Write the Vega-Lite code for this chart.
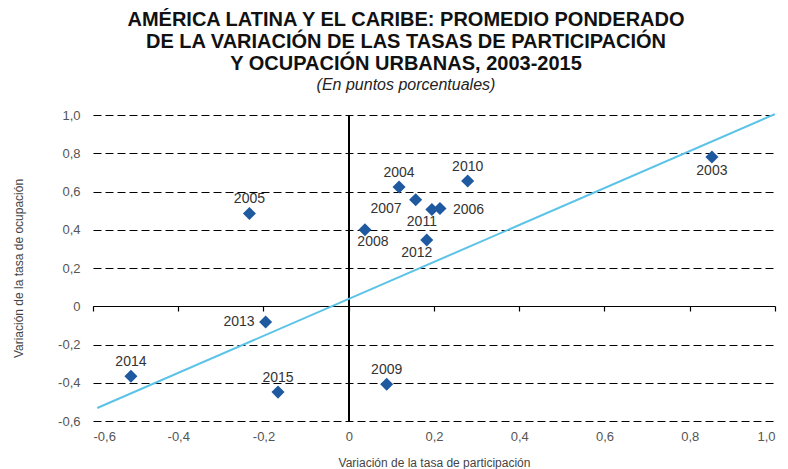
{
  "$schema": "https://vega.github.io/schema/vega-lite/v6.json",
  "width": 682,
  "height": 306,
  "autosize": {"type": "none"},
  "padding": {"left": 93, "top": 115, "right": 13, "bottom": 48},
  "background": "white",
  "config": {"view": {"stroke": null}, "font": "Liberation Sans"},
  "title": {
    "text": ["AMÉRICA LATINA Y EL CARIBE: PROMEDIO PONDERADO", "DE LA VARIACIÓN DE LAS TASAS DE PARTICIPACIÓN", "Y OCUPACIÓN URBANAS, 2003-2015"],
    "subtitle": "(En puntos porcentuales)",
    "fontSize": 20,
    "fontWeight": "bold",
    "lineHeight": 22,
    "color": "#111111",
    "subtitleFontSize": 16,
    "subtitleFontStyle": "italic",
    "subtitleColor": "#222222",
    "subtitlePadding": 3,
    "anchor": "middle",
    "frame": "group",
    "dx": -28,
    "offset": 16
  },
  "datasets": {
    "pts": [
      {"year": "2003", "x": 0.852, "y": 0.78},
      {"year": "2004", "x": 0.118, "y": 0.623},
      {"year": "2005", "x": -0.233, "y": 0.485},
      {"year": "2006", "x": 0.214, "y": 0.511},
      {"year": "2007", "x": 0.157, "y": 0.557},
      {"year": "2008", "x": 0.038, "y": 0.4},
      {"year": "2009", "x": 0.089, "y": -0.408},
      {"year": "2010", "x": 0.279, "y": 0.655},
      {"year": "2011", "x": 0.195, "y": 0.506},
      {"year": "2012", "x": 0.183, "y": 0.346},
      {"year": "2013", "x": -0.195, "y": -0.082},
      {"year": "2014", "x": -0.511, "y": -0.366},
      {"year": "2015", "x": -0.166, "y": -0.449}
    ],
    "fit": [
      {"x": -0.59, "y": -0.532},
      {"x": 1.0, "y": 1.005}
    ]
  },
  "layer": [
    {
      "data": {"name": "pts"},
      "mark": {"type": "rule", "color": "black", "strokeWidth": 1.2},
      "encoding": {
        "x": {"datum": 0, "type": "quantitative", "scale": {"domain": [-0.6, 1.0], "nice": false, "zero": false}, "axis": null}
      }
    },
    {
      "data": {"name": "fit"},
      "mark": {"type": "line", "color": "#5bc3e8", "strokeWidth": 2},
      "encoding": {
        "x": {"field": "x", "type": "quantitative", "axis": {"orient": "bottom", "offset": -115, "domain": true, "domainColor": "black", "domainWidth": 1.2, "ticks": true, "tickColor": "black", "tickSize": 5, "tickWidth": 1.2, "labels": false, "grid": false, "title": null, "tickCount": 20, "values": [-0.6, -0.4, -0.2, 0, 0.2, 0.4, 0.6, 0.8, 1.0]}},
        "y": {"field": "y", "type": "quantitative", "scale": {"domain": [-0.6, 1.0], "nice": false, "zero": false}, "axis": {"domain": false, "ticks": false, "grid": true, "gridColor": "black", "gridDash": [8, 4], "gridWidth": 1, "tickCount": 20, "values": [-0.6, -0.4, -0.2, 0, 0.2, 0.4, 0.6, 0.8, 1.0], "labelOverlap": false, "labelExpr": "datum.value == 0 ? '0' : (datum.value < 0 ? '-' : '') + replace(format(abs(datum.value), '.1f'), '.', ',')", "labelFontSize": 13, "labelColor": "#555555", "labelPadding": 13, "title": "Variación de la tasa de ocupación", "titleFontSize": 12, "titleFontWeight": "normal", "titleColor": "#444444", "titlePadding": 32}}
      }
    },
    {
      "data": {"name": "pts"},
      "mark": {"type": "point", "shape": "diamond", "filled": true, "size": 170, "color": "#1f5aa0", "opacity": 1},
      "encoding": {
        "x": {"field": "x", "type": "quantitative", "axis": {"orient": "bottom", "domain": false, "ticks": false, "grid": false, "labelOverlap": false, "tickCount": 20, "values": [-0.6, -0.4, -0.2, 0, 0.2, 0.4, 0.6, 0.8, 1.0], "labelExpr": "datum.value == 0 ? '0' : (datum.value < 0 ? '-' : '') + replace(format(abs(datum.value), '.1f'), '.', ',')", "labelFontSize": 13, "labelColor": "#555555", "labelPadding": 9, "title": "Variación de la tasa de participación", "titleFontSize": 12, "titleFontWeight": "normal", "titleColor": "#444444", "titlePadding": 14}},
        "y": {"field": "y", "type": "quantitative"}
      }
    },
    {
      "data": {"name": "pts"},
      "transform": [{"filter": {"field": "year", "oneOf": ["2004", "2005", "2009", "2010", "2014", "2015"]}}],
      "mark": {"type": "text", "fontSize": 14, "color": "#333333", "dy": -14, "align": "center", "baseline": "middle"},
      "encoding": {"x": {"field": "x", "type": "quantitative", "axis": null}, "y": {"field": "y", "type": "quantitative"}, "text": {"field": "year"}}
    },
    {
      "data": {"name": "pts"},
      "transform": [{"filter": {"field": "year", "oneOf": ["2003"]}}],
      "mark": {"type": "text", "fontSize": 14, "color": "#333333", "dy": 14, "align": "center", "baseline": "middle"},
      "encoding": {"x": {"field": "x", "type": "quantitative", "axis": null}, "y": {"field": "y", "type": "quantitative"}, "text": {"field": "year"}}
    },
    {
      "data": {"name": "pts"},
      "transform": [{"filter": {"field": "year", "oneOf": ["2011", "2012"]}}],
      "mark": {"type": "text", "fontSize": 14, "color": "#333333", "dx": -10, "dy": 13, "align": "center", "baseline": "middle"},
      "encoding": {"x": {"field": "x", "type": "quantitative", "axis": null}, "y": {"field": "y", "type": "quantitative"}, "text": {"field": "year"}}
    },
    {
      "data": {"name": "pts"},
      "transform": [{"filter": {"field": "year", "oneOf": ["2008"]}}],
      "mark": {"type": "text", "fontSize": 14, "color": "#333333", "dx": 8, "dy": 12, "align": "center", "baseline": "middle"},
      "encoding": {"x": {"field": "x", "type": "quantitative", "axis": null}, "y": {"field": "y", "type": "quantitative"}, "text": {"field": "year"}}
    },
    {
      "data": {"name": "pts"},
      "transform": [{"filter": {"field": "year", "oneOf": ["2013"]}}],
      "mark": {"type": "text", "fontSize": 14, "color": "#333333", "dx": -11, "dy": 0, "align": "right", "baseline": "middle"},
      "encoding": {"x": {"field": "x", "type": "quantitative", "axis": null}, "y": {"field": "y", "type": "quantitative"}, "text": {"field": "year"}}
    },
    {
      "data": {"name": "pts"},
      "transform": [{"filter": {"field": "year", "oneOf": ["2007"]}}],
      "mark": {"type": "text", "fontSize": 14, "color": "#333333", "dx": -14, "dy": 9, "align": "right", "baseline": "middle"},
      "encoding": {"x": {"field": "x", "type": "quantitative", "axis": null}, "y": {"field": "y", "type": "quantitative"}, "text": {"field": "year"}}
    },
    {
      "data": {"name": "pts"},
      "transform": [{"filter": {"field": "year", "oneOf": ["2006"]}}],
      "mark": {"type": "text", "fontSize": 14, "color": "#333333", "dx": 13, "dy": 1, "align": "left", "baseline": "middle"},
      "encoding": {"x": {"field": "x", "type": "quantitative", "axis": null}, "y": {"field": "y", "type": "quantitative"}, "text": {"field": "year"}}
    }
  ],
  "resolve": {"axis": {"x": "independent"}}
}
